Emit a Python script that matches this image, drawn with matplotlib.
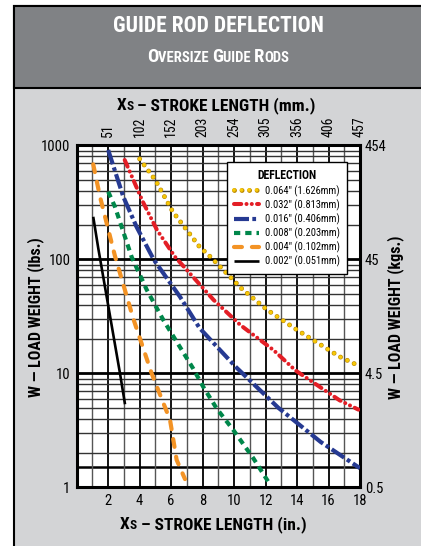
import matplotlib
matplotlib.use('Agg')
import matplotlib.pyplot as plt
from matplotlib.patches import Rectangle
from matplotlib.ticker import NullFormatter, FixedLocator
import matplotlib.patheffects as pe
import logging
logging.getLogger('matplotlib.font_manager').setLevel(logging.ERROR)

# ---------------- data ----------------
x_major = [2, 4, 6, 8, 10, 12, 14, 16, 18]
x_minor = [1, 3, 5, 7, 9, 11, 13, 15, 17]
x_labels_in = ['2', '4', '6', '8', '10', '12', '14', '16', '18']
x_labels_mm = ['51', '102', '152', '203', '254', '305', '356', '406', '457']
y_major = [1, 10, 100, 1000]
y_labels_lbs = ['1', '10', '100', '1000']
y_labels_kgs = ['0.5', '4.5', '45', '454']
extra_grid = [1.5]

legend_labels = ['0.064" (1.626mm)', '0.032" (0.813mm)', '0.016" (0.406mm)',
                 '0.008" (0.203mm)', '0.004" (0.102mm)', '0.002" (0.051mm)']

x_064 = [4.0, 5.0, 6.1, 7.8, 8.5, 10.5, 12.1, 14.0, 16.7, 18.0]
w_064 = [760, 495, 262, 129, 105, 55, 36, 24, 14, 11.5]

x_032 = [3.05, 4.2, 5.1, 6.25, 8.7, 10.4, 12.5, 13.9, 16.7, 17.9]
w_032 = [743, 320, 181, 105, 44, 26.5, 16, 10.6, 5.8, 4.8]

x_016 = [2.0, 2.96, 3.8, 4.9, 6.56, 7.8, 10.1, 12.8, 15.5, 18.0]
w_016 = [910, 354, 193, 99, 47, 25, 11.4, 5.0, 2.5, 1.47]

x_008 = [2.0, 2.43, 3.49, 4.45, 5.5, 7.4, 8.04, 8.9, 9.95, 11.22, 12.17]
w_008 = [392, 289, 105, 54, 29.4, 11.0, 7.6, 4.9, 3.18, 1.8, 1.12]

x_004 = [1.05, 1.48, 2.43, 3.6, 4.76, 5.93, 6.35, 6.88]
w_004 = [681, 354, 107, 30, 10, 3.9, 1.74, 1.18]

x_002 = [1.05, 1.37, 2.75, 3.07]
w_002 = [236, 125, 10, 5.35]

# ---------------- figure ----------------
W, H = 421, 546
FONT = ['Roboto Condensed', 'Liberation Sans Narrow', 'DejaVu Sans Condensed',
        'Roboto', 'DejaVu Sans']
plt.rcParams['font.family'] = FONT
plt.rcParams['font.stretch'] = 'condensed'
fig = plt.figure(figsize=(W / 100, H / 100), dpi=100)
fig.patch.set_facecolor('white')


def fx(px):
    return px / W


def fy(py):
    return 1 - py / H


# frame + header
fig.patches.append(Rectangle((fx(14), -0.01), 1.0, fy(6) + 0.01, transform=fig.transFigure,
                             facecolor='#d3d4d6', edgecolor='black', lw=1.5, zorder=-10))
fig.patches.append(Rectangle((fx(14), fy(88)), 1.0, fy(6) - fy(88), transform=fig.transFigure,
                             facecolor='#808285', edgecolor='black', lw=1.5, zorder=-9))

renderer = fig.canvas.get_renderer()


def place_pieces(xc, baseline, pieces, color='black', weight='bold'):
    texts = []
    for s, size in pieces:
        t = fig.text(0, fy(baseline), s, fontsize=size, color=color,
                     fontweight=weight, va='baseline', ha='left')
        texts.append(t)
    widths = [t.get_window_extent(renderer).width for t in texts]
    x = xc - sum(widths) / 2
    for t, w in zip(texts, widths):
        t.set_x(fx(x))
        x += w


# titles
place_pieces(218, 32, [('GUIDE ROD DEFLECTION', 15.5)], color='white')
place_pieces(218, 62, [('O', 13.5), ('VERSIZE ', 10.5), ('G', 13.5), ('UIDE ', 10.5),
                       ('R', 13.5), ('ODS', 10.5)], color='white')
place_pieces(216, 110, [('X', 12.5), ('S', 9.5), (' – STROKE LENGTH (mm.)', 12.5)])
place_pieces(213, 529, [('X', 12.5), ('S', 9.5), (' – STROKE LENGTH (in.)', 12.5)])

fig.text(fx(36), fy(317), 'W — LOAD WEIGHT (lbs.)', rotation=90, fontsize=11.5,
         fontweight='bold', ha='center', va='center')
fig.text(fx(396), fy(317), 'W — LOAD WEIGHT (kgs.)', rotation=90, fontsize=11.5,
         fontweight='bold', ha='center', va='center')

# ---------------- axes ----------------
ax = fig.add_axes([fx(76.7), fy(487.3), fx(360) - fx(76.7), (487.3 - 145.3) / H])
ax.set_facecolor('white')
ax.set_xlim(0, 18)
ax.set_yscale('log')
ax.set_ylim(1, 1000)

ax.set_xticks(x_major)
ax.set_xticklabels(x_labels_in, fontsize=10.5)
ax.xaxis.set_minor_locator(FixedLocator(x_minor))
ax.set_yticks(y_major)
ax.set_yticklabels(y_labels_lbs, fontsize=10.5)
ax.yaxis.set_minor_formatter(NullFormatter())
ax.tick_params(which='both', length=0)
ax.tick_params(axis='x', pad=5)
ax.tick_params(axis='y', pad=4.5)

ax.xaxis.grid(True, which='major', color='black', lw=1.3)
ax.xaxis.grid(True, which='minor', color='#555555', lw=1.0)
ax.yaxis.grid(True, which='major', color='black', lw=2.0)
ax.yaxis.grid(True, which='minor', color='#333333', lw=1.0)
for v in extra_grid:
    ax.axhline(v, color='black', lw=1.8, zorder=1.5)
for s in ax.spines.values():
    s.set_linewidth(2.2)

styles = [
    dict(color='#f7c808', lw=2.7, ls=(0, (0.01, 2.0)), dash_capstyle='round',
         path_effects=[pe.Stroke(linewidth=3.5, foreground='#b88600'), pe.Normal()]),
    dict(color='#e31e26', lw=2.9, ls=(0, (1.8, 1.3, 0.01, 1.3, 0.01, 1.3)), dash_capstyle='round'),
    dict(color='#263a92', lw=3.0, ls=(0, (3.6, 0.8, 0.9, 0.8)), dash_capstyle='butt'),
    dict(color='#00874a', lw=3.0, ls=(0, (1.5, 1.2)), dash_capstyle='butt'),
    dict(color='#f39325', lw=3.0, ls=(0, (1.9, 2.4)), dash_capstyle='round'),
    dict(color='black', lw=1.9, ls='-', solid_capstyle='butt'),
]
series = [(x_064, w_064), (x_032, w_032), (x_016, w_016),
          (x_008, w_008), (x_004, w_004), (x_002, w_002)]
for (xs, ws), st, lab in zip(series, styles, legend_labels):
    ax.plot(xs, ws, label=lab, zorder=3, **st)

leg = ax.legend(loc='upper right', bbox_to_anchor=(0.972, 0.966), fontsize=7.5,
                title='DEFLECTION', title_fontproperties={'weight': 'bold', 'size': 8.5},
                frameon=True, fancybox=False, edgecolor='black', framealpha=1,
                handlelength=2.4, handletextpad=0.5, labelspacing=0.25, borderpad=0.7)
leg.get_frame().set_linewidth(1.0)
leg.set_zorder(6)

# right axis (kgs)
axr = ax.twinx()
axr.set_yscale('log')
axr.set_ylim(1, 1000)
axr.set_yticks(y_major)
axr.set_yticklabels(y_labels_kgs, fontsize=10.5)
axr.yaxis.set_minor_formatter(NullFormatter())
axr.tick_params(which='both', length=0, pad=3.5)
for s in axr.spines.values():
    s.set_visible(False)

# top axis (mm)
axt = ax.secondary_xaxis('top')
axt.set_xticks(x_major)
axt.set_xticklabels(x_labels_mm, fontsize=10, rotation=90)
axt.tick_params(which='both', length=0, pad=6)
axt.spines['top'].set_visible(False)

fig.savefig('out.png', dpi=100)
